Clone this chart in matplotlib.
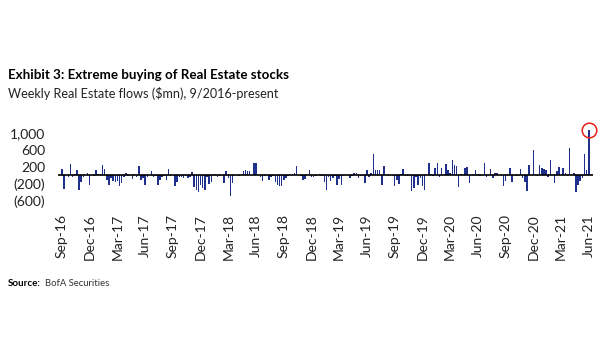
import matplotlib
matplotlib.use("Agg")
import matplotlib.pyplot as plt
import numpy as np
import pandas as pd

plt.rcParams['font.family'] = ['Lato', 'DejaVu Sans']

# weekly Real Estate flows ($mn), Sep-2016 .. Jun-2021
flows = [
    156, -310, 20, -30, 280, -40, 30, 130, -335, -160,
    -30, 20, 70, -220, 10, -20, 125, 30, -20, 250,
    155, -100, -220, -60, -140, -160, -120, -255, -185, -40,
    55, -20, 10, -85, 40, -30, 220, -100, -60, -235,
    -30, 10, 95, -30, -20, -220, -115, -30, -20, -100,
    155, -20, 10, -255, -155, -40, -30, -60, -20, -50,
    -40, 80, -280, -335, -400, -220, -300, -335, -30, -200,
    -150, -20, 30, -40, -20, 10, -180, 110, -70, -490,
    -180, -20, 10, -20, 20, 95, 130, 110, 95, 20,
    290, 290, 10, -30, -140, -20, 10, -115, -30, -20,
    -165, -220, -255, -255, -100, -60, -20, 10, 30, 55,
    220, 20, -10, -100, -80, 10, 120, -30, -30, -10,
    10, 30, -20, -150, -335, -40, -140, -60, -20, -220,
    -80, -220, -20, 10, 5, -70, -20, 70, 70, -50,
    -10, -20, -180, 130, -30, 70, 500, 130, 130, 130,
    -220, 225, 20, -10, 10, -20, -240, -100, -200, 30,
    155, -10, -20, -20, -375, -300, -30, -220, -60, -240,
    -335, 20, 305, 40, -10, 170, 305, -40, 185, 20,
    270, 120, 60, 365, 250, 225, -270, 40, 10, 185,
    210, -180, 10, -10, 120, 40, -10, 10, 305, -30,
    10, 155, -50, 70, 60, 10, -20, -240, -120, 30,
    185, -155, 10, -20, -10, 155, -70, -155, -360, 250,
    10, 610, 10, -20, 250, 185, 155, 120, -40, 365,
    10, -180, 110, 210, 10, 185, 60, -10, 640, 10,
    55, -390, -220, -120, -70, 500, 130, 1080,
]
weeks = pd.date_range("2016-09-09", periods=len(flows), freq="7D")
yticks = [-600, -200, 200, 600, 1000]
ytick_labels = ["(600)", "(200)", "200", "600", "1,000"]

fig = plt.figure(figsize=(6.05, 3.41), dpi=100)
ax = fig.add_axes([0.0954, 0.4044, 0.8848, 0.2305])

x = np.arange(len(flows))
ax.bar(x, flows, width=0.7, color='#1f2f8c', linewidth=0)
ax.axhline(0, color='black', lw=1.2)

# red circle on the latest week
ax.plot(x[-1], flows[-1], marker='o', ms=10.5, mfc='none', mec='#e8201c',
        mew=1.1, clip_on=False)

ax.set_xlim(-2, 249)
ax.set_ylim(-650, 1200)
ax.set_yticks(yticks)
ax.set_yticklabels(ytick_labels)
tpos = x[::13]
ax.set_xticks(tpos)
ax.set_xticklabels([weeks[i].strftime('%b-%y') for i in tpos], rotation=90)
ax.tick_params(axis='both', length=0, labelsize=10, colors='#222222')
ax.tick_params(axis='y', pad=9)
ax.tick_params(axis='x', pad=8)
for s in ax.spines.values():
    s.set_visible(False)

fig.text(8/605, 1-75/341, "Exhibit 3: Extreme buying of Real Estate stocks",
         fontsize=9.6, fontweight='bold', va='center', ha='left')
fig.text(8/605, 1-93/341, "Weekly Real Estate flows ($mn), 9/2016-present",
         fontsize=9.1, va='center', ha='left', color='#222222')
fig.text(8/605, 1-283/341, "Source:", fontsize=7, fontweight='bold',
         va='center', ha='left')
fig.text(45/605, 1-283/341, "BofA Securities", fontsize=6.8,
         va='center', ha='left', color='#333333')

fig.savefig("out.png", dpi=100)
